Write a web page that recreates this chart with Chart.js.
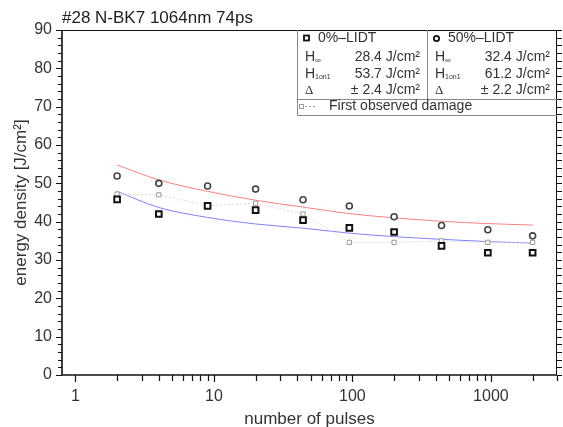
<!DOCTYPE html>
<html>
<head>
<meta charset="utf-8">
<script src="https://cdn.jsdelivr.net/npm/chart.js@4.4.0/dist/chart.umd.min.js"></script>
<style>
  html, body { margin: 0; padding: 0; background: #fff; }
  canvas { display: block; }
</style>
</head>
<body>
<canvas id="chart" width="563" height="427"></canvas>
<script>
// values
const pulses = [2, 4, 9, 20, 44, 95, 200, 440, 950, 2000];
const lidt0 = [45.8, 42.0, 44.1, 43.0, 40.4, 38.4, 37.3, 33.7, 31.9, 31.9];
const lidt50 = [51.9, 50.0, 49.3, 48.5, 45.7, 44.1, 41.3, 39.0, 37.9, 36.3];
const firstDamage = [47.2, 47.0, 44.2, 44.8, 42.0, 34.6, 34.6, 35.0, 34.6, 34.6];
const fit50 = [54.8, 50.9, 47.9, 45.6, 43.8, 42.1, 41.0, 40.1, 39.5, 39.1];
const fit0 = [47.9, 43.7, 41.1, 39.4, 38.3, 37.0, 36.1, 35.4, 34.8, 34.4];
const xTicks = [1, 10, 100, 1000];
const yTicks = [0, 10, 20, 30, 40, 50, 60, 70, 80, 90];

const FONT = '"Liberation Sans", Arial, Helvetica, sans-serif';
const pts = (ys) => pulses.map((x, i) => ({ x, y: ys[i] }));

// frame, minor ticks, title and the parameter table
const decor = {
  id: 'decor',
  afterDraw(chart) {
    const { ctx, chartArea: a, scales: { x, y } } = chart;
    ctx.save();
    ctx.strokeStyle = '#111';
    // frame
    ctx.lineWidth = 1;
    ctx.beginPath();
    ctx.moveTo(a.left, a.top + 0.5); ctx.lineTo(a.right, a.top + 0.5);
    ctx.moveTo(a.right - 0.5, a.top); ctx.lineTo(a.right - 0.5, a.bottom);
    ctx.stroke();
    ctx.lineWidth = 1.6;
    ctx.beginPath();
    ctx.moveTo(a.left, a.top); ctx.lineTo(a.left, a.bottom);
    ctx.lineTo(a.right, a.bottom);
    ctx.stroke();
    // y ticks, left and right
    ctx.lineWidth = 1.2;
    ctx.beginPath();
    for (let v = 0; v <= 90; v += 2) {
      const py = Math.round(y.getPixelForValue(v)) + 0.5;
      const len = v % 10 === 0 ? 6 : 4;
      ctx.moveTo(a.left, py); ctx.lineTo(a.left - len, py);
      ctx.moveTo(a.right, py); ctx.lineTo(a.right + 5, py);
    }
    ctx.stroke();
    // x ticks
    ctx.beginPath();
    for (let d = 1; d <= 1000; d *= 10) {
      for (let m = 1; m <= 9; m++) {
        const v = d * m;
        if (v > 3000) break;
        const px = Math.round(x.getPixelForValue(v)) + 0.5;
        ctx.moveTo(px, a.bottom); ctx.lineTo(px, a.bottom + (m === 1 ? 7 : 6));
      }
    }
    ctx.stroke();

    // title
    ctx.fillStyle = '#222';
    ctx.font = '17px ' + FONT;
    ctx.textAlign = 'left';
    ctx.textBaseline = 'middle';
    ctx.fillText('#28 N-BK7 1064nm 74ps', 62, 18);

    // table
    const L = 297, R = a.right, M = 427, T = a.top, S = 99, B = 115;
    ctx.fillStyle = '#fff';
    ctx.fillRect(L, T + 1, R - L - 1, B - T - 1);
    ctx.strokeStyle = '#888';
    ctx.lineWidth = 1;
    ctx.beginPath();
    ctx.moveTo(L + 0.5, T); ctx.lineTo(L + 0.5, B + 0.5); ctx.lineTo(R, B + 0.5);
    ctx.moveTo(L, S + 0.5); ctx.lineTo(R, S + 0.5);
    ctx.moveTo(M + 0.5, T); ctx.lineTo(M + 0.5, S);
    ctx.stroke();

    const rows = [57.3, 74.3, 90.5];
    const cols = [
      { hx: 305, vx: 420, name: '0%–LIDT', mark: 'rect', vals: ['28.4 J/cm²', '53.7 J/cm²', '± 2.4 J/cm²'] },
      { hx: 435, vx: 550, name: '50%–LIDT', mark: 'circle', vals: ['32.4 J/cm²', '61.2 J/cm²', '± 2.2 J/cm²'] }
    ];
    ctx.fillStyle = '#333';
    ctx.textBaseline = 'middle';
    cols.forEach(c => {
      // marker
      ctx.strokeStyle = '#111';
      ctx.lineWidth = 1.8;
      if (c.mark === 'rect') {
        ctx.strokeRect(c.hx - 1, 35.5, 5, 5);
      } else {
        ctx.beginPath(); ctx.arc(c.hx + 1.5, 38.5, 2.6, 0, Math.PI * 2); ctx.stroke();
      }
      ctx.font = '14px ' + FONT;
      ctx.textAlign = 'left';
      ctx.fillText(c.name, c.hx + 13, 38.5);
      // H inf
      ctx.fillText('H', c.hx, rows[0]);
      ctx.font = '8px ' + FONT;
      ctx.fillText('∞', c.hx + 10, rows[0] + 3);
      ctx.font = '14px ' + FONT;
      ctx.fillText('H', c.hx, rows[1]);
      ctx.font = '7px ' + FONT;
      ctx.fillText('1on1', c.hx + 10, rows[1] + 3);
      ctx.font = '13px "Liberation Serif", serif';
      ctx.fillText('Δ', c.hx, rows[2]);
      ctx.font = '14px ' + FONT;
      ctx.textAlign = 'right';
      c.vals.forEach((t, i) => ctx.fillText(t, c.vx, rows[i]));
    });
    // first observed damage key
    ctx.strokeStyle = '#999';
    ctx.lineWidth = 1;
    ctx.strokeRect(299.5, 104.5, 4, 4);
    ctx.setLineDash([2, 2]);
    ctx.beginPath(); ctx.moveTo(305, 106.5); ctx.lineTo(315, 106.5); ctx.stroke();
    ctx.setLineDash([]);
    ctx.textAlign = 'left';
    ctx.font = '14px ' + FONT;
    ctx.fillText('First observed damage', 329, 106.5);
    ctx.restore();
  }
};

new Chart(document.getElementById('chart'), {
  type: 'scatter',
  data: {
    datasets: [
      {
        label: '0%-LIDT', data: pts(lidt0), showLine: false,
        pointStyle: 'rect', pointRadius: 4, borderWidth: 2,
        borderColor: '#111', backgroundColor: '#fff'
      },
      {
        label: '50%-LIDT', data: pts(lidt50), showLine: false,
        pointStyle: 'circle', pointRadius: 3, borderWidth: 1.6,
        borderColor: '#444', backgroundColor: '#fff'
      },
      {
        label: 'First observed damage', data: pts(firstDamage), showLine: true,
        pointStyle: 'rect', pointRadius: 3, pointBorderWidth: 1,
        pointBorderColor: '#999', pointBackgroundColor: '#fff',
        borderColor: '#d8d8d8', borderWidth: 1, borderDash: [2, 2], backgroundColor: '#fff'
      },
      {
        label: 'fit 50%', data: pts(fit50), showLine: true, pointRadius: 0,
        borderColor: '#ff8080', borderWidth: 1, cubicInterpolationMode: 'monotone'
      },
      {
        label: 'fit 0%', data: pts(fit0), showLine: true, pointRadius: 0,
        borderColor: '#8080ff', borderWidth: 1, cubicInterpolationMode: 'monotone'
      }
    ]
  },
  options: {
    responsive: false,
    animation: false,
    devicePixelRatio: 1,
    layout: { padding: { top: 30, right: 6, left: 0, bottom: 0 } },
    plugins: { legend: { display: false }, tooltip: { enabled: false } },
    scales: {
      x: {
        type: 'logarithmic',
        min: 0.8,
        max: 3000,
        afterBuildTicks: (s) => { s.ticks = xTicks.map(v => ({ value: v })); },
        afterFit: (s) => { s.height = 52; },
        grid: { display: false, drawTicks: true, tickLength: 8 },
        border: { display: false },
        ticks: {
          autoSkip: false, maxRotation: 0, padding: 4,
          color: '#333', font: { family: FONT, size: 16 },
          callback: (v) => String(v)
        },
        title: {
          display: true, text: 'number of pulses', color: '#333',
          font: { family: FONT, size: 17, lineHeight: 0.9 }, padding: { top: 0, bottom: 0 }
        }
      },
      y: {
        min: 0,
        max: 90,
        afterBuildTicks: (s) => { s.ticks = yTicks.map(v => ({ value: v })); },
        afterFit: (s) => { s.width = 62; },
        grid: { display: false, drawTicks: true, tickLength: 6 },
        border: { display: false },
        ticks: { padding: 4, color: '#333', font: { family: FONT, size: 16 } },
        title: {
          display: true, text: 'energy density [J/cm²]', color: '#333',
          font: { family: FONT, size: 17, lineHeight: 1.2 }, padding: { top: 11, bottom: 0 }
        }
      }
    }
  },
  plugins: [decor]
});
</script>
</body>
</html>
